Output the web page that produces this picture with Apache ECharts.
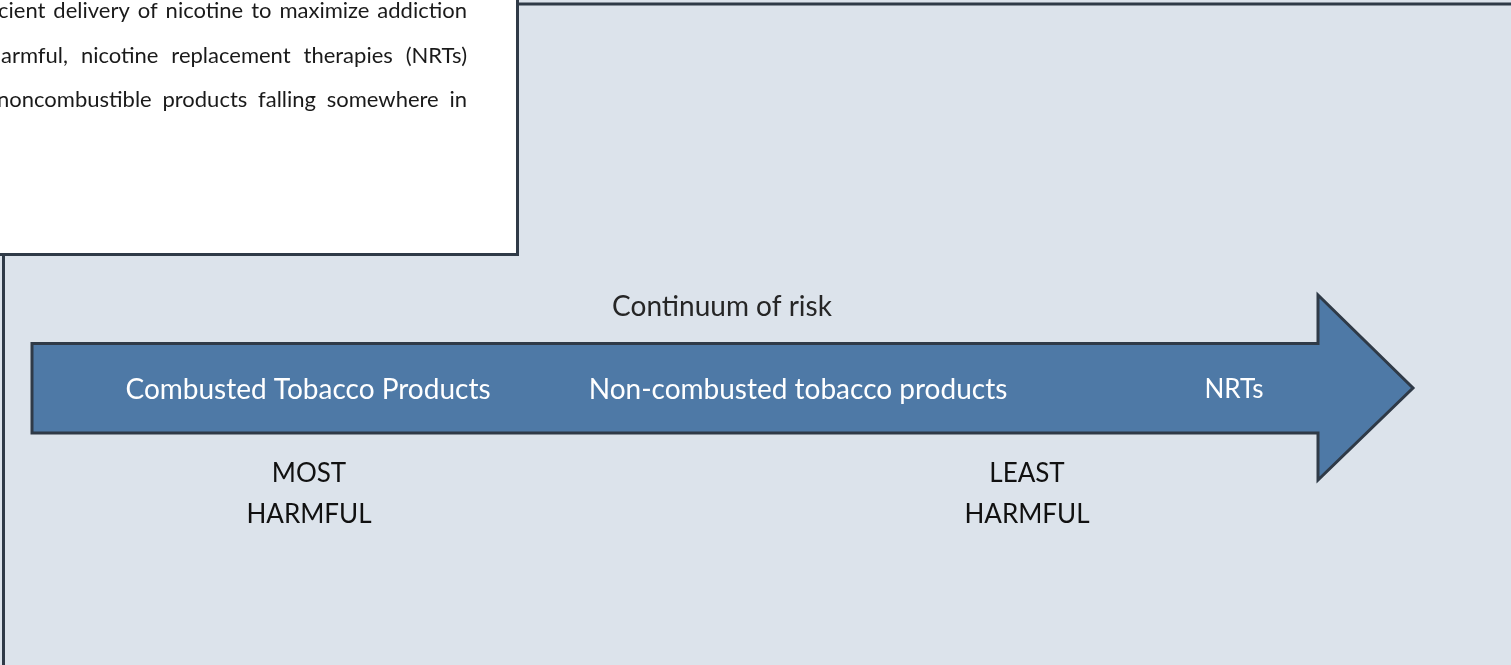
<!DOCTYPE html>
<html>
<head>
<meta charset="utf-8">
<title>Continuum of risk</title>
<script src="https://cdn.jsdelivr.net/npm/echarts@6/dist/echarts.min.js"></script>
<style>
  html, body { margin: 0; padding: 0; background: #dce3eb; }
  #chart { width: 1511px; height: 665px; }
</style>
</head>
<body>
<div id="chart"></div>
<script>
  // --- data ---
  var stages = ['Combusted Tobacco Products', 'Non-combusted tobacco products', 'NRTs'];
  var stageX = [308, 798, 1234];
  var harmLabels = ['MOST\nHARMFUL', 'LEAST\nHARMFUL'];
  var harmX = [309, 1027];
  var arrowSpan = [32, 1413];           // tail, tip along the risk scale
  var riskTitle = 'Continuum of risk';
  var riskTitleX = 722;
  var paraLines = [
    'cient delivery of nicotine to maximize addiction',
    'armful, nicotine replacement therapies (NRTs)',
    'noncombustible products falling somewhere in'
  ];

  // --- layout / style ---
  var W = 1511, H = 665;
  var FONT = 'Lato, "Open Sans", sans-serif';
  var edge = '#2f3a47';
  var arrowFill = '#4e79a6';
  var shaftTop = 343.5, shaftBot = 433, headTop = 295, headBot = 480, headBase = 1318, arrowMid = 388;
  var paraFont = '22px ' + FONT;
  var paraStart = [-2, 1, -3], paraEnd = 467, paraY = [11, 55.5, 100];
  var stageSize = [28, 28, 26];

  // justify the paragraph lines word by word
  var ctx = document.createElement('canvas').getContext('2d');
  ctx.font = paraFont;
  var paraEls = [];
  paraLines.forEach(function (line, i) {
    var words = line.split(' ');
    var widths = words.map(function (w) { return ctx.measureText(w).width; });
    var total = widths.reduce(function (a, b) { return a + b; }, 0);
    var gap = (paraEnd - paraStart[i] - total) / (words.length - 1);
    var x = paraStart[i];
    words.forEach(function (w, j) {
      paraEls.push({
        type: 'text', x: x, y: paraY[i], z: 3,
        style: { text: w, font: paraFont, fill: '#1a1a1a', verticalAlign: 'middle' }
      });
      x += widths[j] + gap;
    });
  });

  var chart = echarts.init(document.getElementById('chart'));

  var option = {
    backgroundColor: '#dce3eb',
    animation: false,
    grid: { left: 0, right: 0, top: 0, bottom: 0 },
    xAxis: { type: 'value', min: 0, max: W, show: false },
    yAxis: { type: 'value', min: 0, max: H, inverse: true, show: false },
    graphic: [
      // outer panel border
      { type: 'rect', z: 0, shape: { x: 3.5, y: 4, width: W + 20, height: H + 20 },
        style: { fill: '#dce3eb', stroke: edge, lineWidth: 3 } },
      // white text box
      { type: 'rect', z: 1, shape: { x: -10, y: -10, width: 527.5, height: 264.5 },
        style: { fill: '#ffffff', stroke: edge, lineWidth: 3 } }
    ].concat(paraEls),
    series: [
      {
        type: 'custom',
        z: 5,
        data: [arrowSpan],
        renderItem: function (params, api) {
          var tail = api.value(0), tip = api.value(1);
          var pts = [
            [tail, shaftTop], [headBase, shaftTop], [headBase, headTop],
            [tip, arrowMid], [headBase, headBot], [headBase, shaftBot], [tail, shaftBot]
          ].map(function (p) { return api.coord(p); });
          return {
            type: 'polygon',
            shape: { points: pts },
            style: { fill: arrowFill, stroke: edge, lineWidth: 3, lineJoin: 'miter' }
          };
        }
      },
      {
        type: 'custom',
        z: 6,
        data: stages.map(function (s, i) { return [stageX[i], arrowMid + 1.5]; }),
        renderItem: function (params, api) {
          var p = api.coord([api.value(0), api.value(1)]);
          return {
            type: 'text', x: p[0], y: p[1],
            style: { text: stages[params.dataIndex], font: stageSize[params.dataIndex] + 'px ' + FONT,
                     fill: '#ffffff', align: 'center', verticalAlign: 'middle' }
          };
        }
      },
      {
        type: 'custom',
        z: 6,
        data: harmLabels.map(function (s, i) { return [harmX[i], 494]; }),
        renderItem: function (params, api) {
          var p = api.coord([api.value(0), api.value(1)]);
          return {
            type: 'text', x: p[0], y: p[1],
            style: { text: harmLabels[params.dataIndex], font: '26px ' + FONT, fill: '#111111',
                     align: 'center', verticalAlign: 'middle', lineHeight: 41 }
          };
        }
      },
      {
        type: 'custom',
        z: 6,
        data: [[riskTitleX, 306.5]],
        renderItem: function (params, api) {
          var p = api.coord([api.value(0), api.value(1)]);
          return {
            type: 'text', x: p[0], y: p[1],
            style: { text: riskTitle, font: '28px ' + FONT, fill: '#262626',
                     align: 'center', verticalAlign: 'middle' }
          };
        }
      }
    ]
  };

  chart.setOption(option);
</script>
</body>
</html>
